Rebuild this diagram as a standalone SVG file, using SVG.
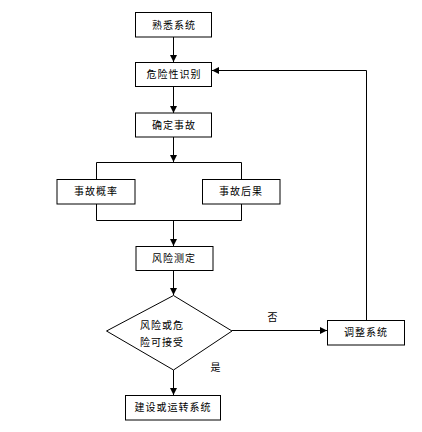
<svg xmlns="http://www.w3.org/2000/svg" width="422" height="432" viewBox="0 0 422 432">
<defs>
<marker id="ah" markerWidth="8" markerHeight="8" refX="7" refY="4" orient="auto" markerUnits="userSpaceOnUse">
<path d="M0,0.5 L7,4 L0,7.5 Z" fill="#000"/>
</marker>
<style>
.box{fill:#fff;stroke:#000;stroke-width:1}
.ln{fill:none;stroke:#000;stroke-width:1}
.t{font-family:"Liberation Sans","Noto Sans CJK SC",sans-serif;font-size:10px;fill:#000;text-anchor:middle;dominant-baseline:central;letter-spacing:1px}
</style>
</defs>
<rect width="422" height="432" fill="#fff"/>
<g id="connectors">
<line class="ln" x1="173.5" y1="37" x2="173.5" y2="62" marker-end="url(#ah)"/>
<line class="ln" x1="173.5" y1="86" x2="173.5" y2="113" marker-end="url(#ah)"/>
<line class="ln" x1="173.5" y1="137" x2="173.5" y2="162" marker-end="url(#ah)"/>
<polyline class="ln" points="96.5,179 96.5,162.5 241.5,162.5 241.5,179"/>
<polyline class="ln" points="96.5,204 96.5,220.5 241.5,220.5 241.5,204"/>
<line class="ln" x1="173.5" y1="220" x2="173.5" y2="246" marker-end="url(#ah)"/>
<line class="ln" x1="173.5" y1="270" x2="173.5" y2="295" marker-end="url(#ah)"/>
<line class="ln" x1="232" y1="330.5" x2="327" y2="330.5" marker-end="url(#ah)"/>
<polyline class="ln" points="366.5,320 366.5,70.5 212,70.5" marker-end="url(#ah)"/>
<line class="ln" x1="173.5" y1="370" x2="173.5" y2="395" marker-end="url(#ah)"/>
<text class="t" x="273" y="317">否</text>
<text class="t" x="216" y="367">是</text>
</g>
<g id="n1"><rect class="box" x="135.5" y="12.5" width="76" height="24.5"/><text class="t" x="174" y="25">熟悉系统</text></g>
<g id="n2"><rect class="box" x="135.5" y="62.5" width="76" height="24"/><text class="t" x="174" y="74.5">危险性识别</text></g>
<g id="n3"><rect class="box" x="135.5" y="113" width="76" height="24"/><text class="t" x="174" y="125">确定事故</text></g>
<g id="n4"><rect class="box" x="57" y="179.5" width="78" height="24.5"/><text class="t" x="96" y="191.5">事故概率</text></g>
<g id="n5"><rect class="box" x="202.5" y="179.5" width="77.5" height="24.5"/><text class="t" x="241" y="191.5">事故后果</text></g>
<g id="n6"><rect class="box" x="136" y="246.5" width="77" height="24"/><text class="t" x="174" y="258.5">风险测定</text></g>
<g id="n7"><polygon class="box" points="173.5,295.5 232,331 173.5,370 106.5,331"/><text class="t" x="162" y="325">风险或危</text><text class="t" x="162" y="342">险可接受</text></g>
<g id="n8"><rect class="box" x="327.5" y="320.5" width="77" height="24.5"/><text class="t" x="366" y="332.5">调整系统</text></g>
<g id="n9"><rect class="box" x="125.5" y="395.5" width="95" height="24.5"/><text class="t" x="173" y="407.5">建设或运转系统</text></g>
</svg>
